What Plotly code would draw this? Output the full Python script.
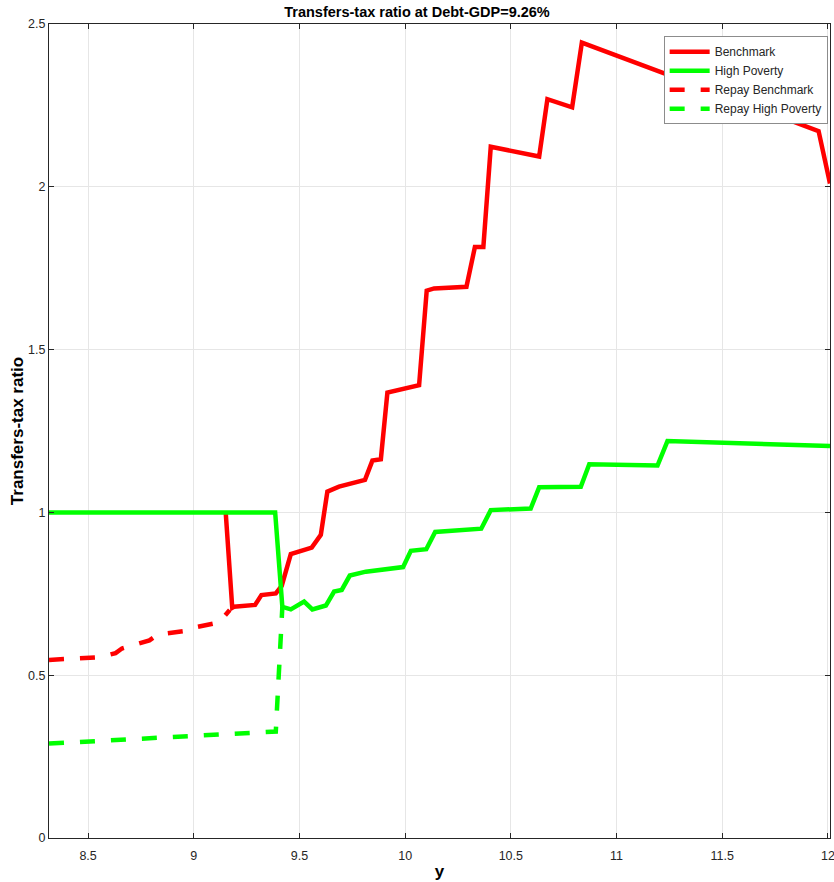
import plotly.graph_objects as go

# Benchmark (solid red)
bench_x = [9.151, 9.182, 9.19, 9.29, 9.32, 9.388, 9.416, 9.459, 9.558, 9.601, 9.632, 9.687, 9.81,
           9.845, 9.885, 9.916, 10.066, 10.102, 10.137, 10.29, 10.33, 10.37, 10.405, 10.634,
           10.673, 10.79, 10.836, 11.956, 12.01]
bench_y = [1.0, 0.707, 0.71, 0.716, 0.746, 0.751, 0.774, 0.872, 0.892, 0.931, 1.064, 1.079, 1.10,
           1.159, 1.163, 1.368, 1.391, 1.681, 1.688, 1.693, 1.815, 1.815, 2.123, 2.093,
           2.269, 2.244, 2.443, 2.171, 2.01]

# High Poverty (solid green)
hp_x = [8.315, 9.385, 9.419, 9.459, 9.522, 9.561, 9.625, 9.664, 9.70, 9.738, 9.814, 9.99, 10.027,
        10.1, 10.142, 10.36, 10.405, 10.594, 10.634, 10.831, 10.871, 11.194, 11.241, 12.01]
hp_y = [1.0, 1.0, 0.71, 0.702, 0.726, 0.702, 0.714, 0.757, 0.762, 0.806, 0.818, 0.832, 0.882,
        0.887, 0.94, 0.95, 1.007, 1.012, 1.077, 1.079, 1.148, 1.144, 1.219, 1.204]

# Repay Benchmark (dashed red)
rb_x = [8.315, 8.55, 8.63, 8.66, 8.79, 8.83, 8.95, 8.99, 9.12, 9.17]
rb_y = [0.547, 0.555, 0.568, 0.582, 0.607, 0.625, 0.635, 0.645, 0.662, 0.70]

# Repay High Poverty (dashed green)
rhp_x = [8.315, 9.31, 9.388, 9.419]
rhp_y = [0.29, 0.324, 0.327, 0.71]

x_ticks = [8.5, 9, 9.5, 10, 10.5, 11, 11.5, 12]
y_ticks = [0, 0.5, 1, 1.5, 2, 2.5]

RED = "#ff0000"
GREEN = "#00ff00"
W = 4.5
DASH = "15px,16px"

fig = go.Figure()
fig.add_trace(go.Scatter(x=bench_x, y=bench_y, mode="lines", name="Benchmark",
                         line=dict(color=RED, width=W)))
fig.add_trace(go.Scatter(x=hp_x, y=hp_y, mode="lines", name="High Poverty",
                         line=dict(color=GREEN, width=W)))
fig.add_trace(go.Scatter(x=rb_x, y=rb_y, mode="lines", name="Repay Benchmark",
                         line=dict(color=RED, width=W, dash=DASH)))
fig.add_trace(go.Scatter(x=rhp_x, y=rhp_y, mode="lines", name="Repay High Poverty",
                         line=dict(color=GREEN, width=W, dash=DASH)))

font_family = "Liberation Sans, Arial, sans-serif"

fig.update_layout(
    width=834, height=882,
    margin=dict(l=49, r=4, t=24, b=44, autoexpand=False),
    plot_bgcolor="white", paper_bgcolor="white",
    font=dict(family=font_family, size=12, color="#262626"),
    title=dict(text="<b>Transfers-tax ratio at Debt-GDP=9.26%</b>", x=0.5, xanchor="center",
               y=0.987, yanchor="middle", font=dict(size=14.5, color="black")),
    showlegend=True,
    legend=dict(x=0.997, y=0.985, xanchor="right", yanchor="top",
                bgcolor="white", bordercolor="#8c8c8c", borderwidth=1,
                font=dict(size=12, color="#262626"), tracegroupgap=0,
                itemwidth=40),
    xaxis=dict(range=[8.315, 12.01], tickvals=x_ticks, ticktext=[str(v) for v in x_ticks],
               showgrid=True, gridcolor="#e6e6e6", gridwidth=1, zeroline=False,
               showline=True, linecolor="#262626", linewidth=1, mirror="ticks",
               ticks="inside", ticklen=5, tickcolor="#262626", automargin=False,
               ticklabeloverflow="allow", ticklabelstandoff=6,
               title=dict(text="<b>y</b>", font=dict(size=17, color="black"), standoff=3),
               tickfont=dict(size=12.5)),
    yaxis=dict(range=[0, 2.5], tickvals=y_ticks, ticktext=["0", "0.5", "1", "1.5", "2", "2.5"],
               showgrid=True, gridcolor="#e6e6e6", gridwidth=1, zeroline=False,
               showline=True, linecolor="#262626", linewidth=1, mirror="ticks",
               ticks="inside", ticklen=5, tickcolor="#262626", automargin=False,
               ticklabeloverflow="allow",
               title=dict(text="<b>Transfers-tax ratio</b>", font=dict(size=17, color="black"),
                          standoff=0),
               tickfont=dict(size=12.5)),
)

fig.write_html("out.html", config={"displayModeBar": False},
               post_script="document.body.style.margin='0';")
